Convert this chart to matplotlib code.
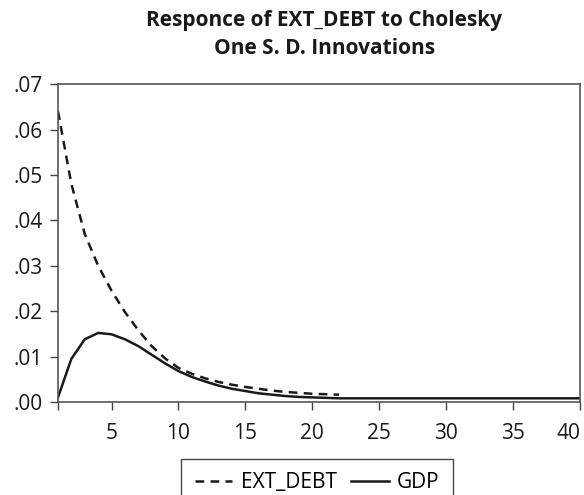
import matplotlib.pyplot as plt
from matplotlib.ticker import FuncFormatter

plt.rcParams['font.family'] = ['Open Sans', 'DejaVu Sans']

# response periods and values
periods = list(range(1, 41))
ext_debt_periods = list(range(1, 23))
ext_debt = [0.0640, 0.0480, 0.0370, 0.0300, 0.0245, 0.0198, 0.0158, 0.0123,
            0.0096, 0.0075, 0.0062, 0.0052, 0.0044, 0.0038, 0.0033, 0.0029,
            0.0025, 0.0022, 0.0020, 0.0018, 0.0017, 0.0016]
gdp = [0.0010, 0.0095, 0.0138, 0.0152, 0.0149, 0.0138, 0.0123, 0.0104,
       0.0085, 0.0068, 0.0055, 0.0045, 0.0036, 0.0029, 0.0024, 0.0019,
       0.0016, 0.0013, 0.0011, 0.0010, 0.0009, 0.0008, 0.0008, 0.0008,
       0.0008, 0.0008, 0.0008, 0.0008, 0.0008, 0.0008, 0.0008, 0.0008,
       0.0008, 0.0008, 0.0008, 0.0008, 0.0008, 0.0008, 0.0008, 0.0008]
x_ticks = [5, 10, 15, 20, 25, 30, 35, 40]
y_ticks = [0.00, 0.01, 0.02, 0.03, 0.04, 0.05, 0.06, 0.07]

fig = plt.figure(figsize=(5.84, 4.95), dpi=100)
ax = fig.add_axes([0.0993, 0.188, 0.8937, 0.642])

ax.plot(ext_debt_periods, ext_debt, color='#1a1a1a', lw=1.8,
        linestyle=(0, (3.5, 2.5)), label='EXT_DEBT')
ax.plot(periods, gdp, color='#1a1a1a', lw=1.8, label='GDP')

ax.set_xlim(1, 40)
ax.set_ylim(0, 0.07)
ax.set_xticks([1] + x_ticks)
ax.set_xticklabels([''] + [str(t) for t in x_ticks])
ax.get_xticklabels()[-1].set_horizontalalignment('right')
ax.set_yticks(y_ticks)
ax.yaxis.set_major_formatter(FuncFormatter(lambda v, p: ('%.2f' % v)[1:]))
ax.tick_params(axis='both', direction='out', length=6, width=1,
               color='#444444', labelsize=15, labelcolor='#1a1a1a')
ax.tick_params(axis='x', pad=9)
ax.tick_params(axis='y', pad=5)
for s in ax.spines.values():
    s.set_color('#555555')
    s.set_linewidth(1.2)

fig.text(0.555, 0.931, 'Responce of EXT_DEBT to Cholesky\nOne S. D. Innovations',
         ha='center', va='center', fontsize=15, fontweight='bold',
         color='#1a1a1a', linespacing=1.42)

leg = fig.legend(loc='upper center', bbox_to_anchor=(0.543, 0.073), ncol=2,
                 fontsize=15, frameon=True, fancybox=False, handlelength=1.8,
                 columnspacing=0.7, handletextpad=0.4, borderpad=0.65,
                 borderaxespad=0)
leg.get_frame().set_edgecolor('#1a1a1a')
leg.get_frame().set_linewidth(1.0)

fig.savefig('out.png', dpi=100)
